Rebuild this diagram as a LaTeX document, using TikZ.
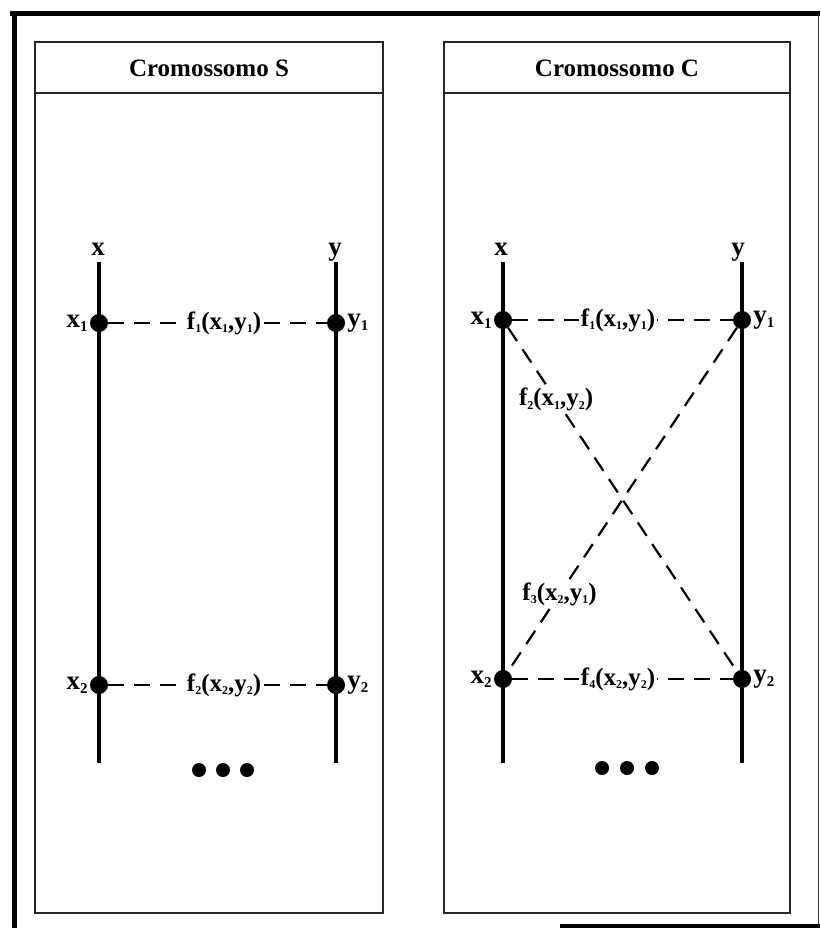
\documentclass[tikz,border=0pt]{standalone}
\usepackage{fontspec}
\setmainfont{Liberation Serif}
\newcommand{\myidx}[1]{\raisebox{-0.35ex}{\fontsize{15}{15}\selectfont #1}}
\newcommand{\mysmidx}[1]{\raisebox{-0.3ex}{\fontsize{12}{12}\selectfont #1}}
\begin{document}
\begin{tikzpicture}[x=1pt,y=-1pt,
  axis/.style={line width=4.5pt},
  dot/.style={circle,fill=black,inner sep=0pt,minimum size=18pt},
  more/.style={circle,fill=black,inner sep=0pt,minimum size=14pt},
  conn/.style={line width=2.2pt,dash pattern=on 16pt off 10pt},
  lab/.style={fill=white,inner sep=2pt,font=\fontsize{25}{25}\selectfont\bfseries},
  ptlab/.style={inner sep=2pt,font=\fontsize{27}{27}\selectfont\bfseries},
  panel/.style={draw=black!85,line width=1.3pt},
  head/.style={font=\fontsize{25}{25}\selectfont\bfseries}]
\useasboundingbox (0,0) rectangle (820,928);
\fill[white] (0,0) rectangle (820,928);
% outer frame
\draw[line width=5pt] (10,14) -- (820,14);
\draw[line width=5pt] (14,12) -- (14,928);
\draw[line width=1pt,black!80] (818,14) -- (818,928);
\draw[line width=4pt] (560,926) -- (820,926);
% panels
\draw[panel] (35,42) rectangle (383,913);
\draw[panel] (35,93) -- (383,93);
\node[head] (hs) at (209,68) {Cromossomo S};
\draw[panel] (444,42) rectangle (790,913);
\draw[panel] (444,93) -- (790,93);
\node[head] (hc) at (617,68) {Cromossomo C};
% ---------- left panel ----------
\coordinate (LxT) at (99,262); \coordinate (LxB) at (99,763);
\coordinate (LyT) at (336,262); \coordinate (LyB) at (336,763);
\draw[axis] (LxT) -- (LxB);
\draw[axis] (LyT) -- (LyB);
\node[ptlab,anchor=base] (Llx) at (98,255) {x};
\node[ptlab,anchor=base] (Lly) at (335,255) {y};
\node[dot] (LX1) at (99,323) {};
\node[dot] (LY1) at (336,323) {};
\node[dot] (LX2) at (99,685) {};
\node[dot] (LY2) at (336,685) {};
\node[ptlab,anchor=east] (Llx1) at (LX1.west) {x\myidx{1}};
\node[ptlab,anchor=west] (Lly1) at (LY1.east) {y\myidx{1}};
\node[ptlab,anchor=east] (Llx2) at (LX2.west) {x\myidx{2}};
\node[ptlab,anchor=west] (Lly2) at (LY2.east) {y\myidx{2}};
\draw[conn] (LX1) -- node[lab,pos=0.53] (Lf1) {f\mysmidx{1}(x\mysmidx{1},y\mysmidx{1})} (LY1);
\draw[conn] (LX2) -- node[lab,pos=0.53] (Lf2) {f\mysmidx{2}(x\mysmidx{2},y\mysmidx{2})} (LY2);
\node[more] (Ld1) at (199,770) {};
\node[more] (Ld2) at (223,770) {};
\node[more] (Ld3) at (247,770) {};
% ---------- right panel ----------
\coordinate (RxT) at (503,262); \coordinate (RxB) at (503,763);
\coordinate (RyT) at (742,262); \coordinate (RyB) at (742,763);
\draw[axis] (RxT) -- (RxB);
\draw[axis] (RyT) -- (RyB);
\node[ptlab,anchor=base] (Rlx) at (501,255) {x};
\node[ptlab,anchor=base] (Rly) at (738,255) {y};
\node[dot] (RX1) at (503,320) {};
\node[dot] (RY1) at (742,320) {};
\node[dot] (RX2) at (503,679) {};
\node[dot] (RY2) at (742,679) {};
\node[ptlab,anchor=east] (Rlx1) at (RX1.west) {x\myidx{1}};
\node[ptlab,anchor=west] (Rly1) at (RY1.east) {y\myidx{1}};
\node[ptlab,anchor=east] (Rlx2) at (RX2.west) {x\myidx{2}};
\node[ptlab,anchor=west] (Rly2) at (RY2.east) {y\myidx{2}};
\draw[conn] (RX1) -- node[lab,pos=0.48] (Rf1) {f\mysmidx{1}(x\mysmidx{1},y\mysmidx{1})} (RY1);
\draw[conn] (RX2) -- node[lab,pos=0.48] (Rf4) {f\mysmidx{4}(x\mysmidx{2},y\mysmidx{2})} (RY2);
\draw[conn] (RX1) -- node[lab,pos=0.21] (Rf2) {f\mysmidx{2}(x\mysmidx{1},y\mysmidx{2})} (RY2);
\draw[conn] (RY1) -- node[lab,pos=0.775] (Rf3) {f\mysmidx{3}(x\mysmidx{2},y\mysmidx{1})} (RX2);
\node[more] (Rd1) at (602,768) {};
\node[more] (Rd2) at (627,768) {};
\node[more] (Rd3) at (652,768) {};
\end{tikzpicture}
\end{document}
